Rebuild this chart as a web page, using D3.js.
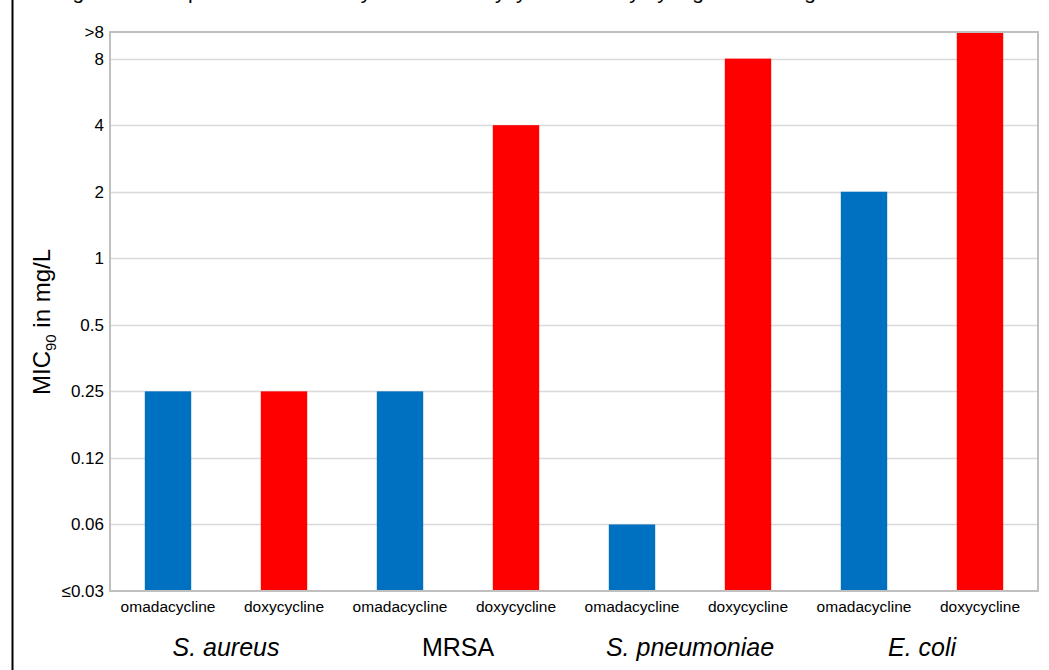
<!DOCTYPE html>
<html>
<head>
<meta charset="utf-8">
<script src="https://cdn.jsdelivr.net/npm/d3@7"></script>
<style>
  body { margin: 0; background: #fff; }
  text { font-family: "Liberation Sans", Arial, sans-serif; fill: #000; }
</style>
</head>
<body>
<div id="chart"></div>
<script>
// data
var organisms  = ['S. aureus', 'MRSA', 'S. pneumoniae', 'E. coli']
  , italicOrg  = [true, false, true, true]
  , drugs      = ['omadacycline', 'doxycycline']
  , omadaMic   = [-2, -2, -4, 1]      // log2 of MIC90: 0.25, 0.25, 0.06, 2
  , doxyMic    = [-2, 2, 3, 3.4]      // 0.25, 4, 8, >8
  , tickLevels = [-5, -4, -3, -2, -1, 0, 1, 2, 3, 3.4]
  , tickLabels = ['≤0.03', '0.06', '0.12', '0.25', '0.5', '1', '2', '4', '8', '>8']
;

var width   = 1049
  , height  = 670
  , margin  = { top: 32, right: 11, bottom: 79, left: 110 }
  , font    = '"Liberation Sans", Arial, sans-serif'
  , colors  = { omadacycline: '#0070c0', doxycycline: '#ff0000' }
;

var rows = [];
organisms.forEach(function (o, i) {
  rows.push({ org: o, drug: drugs[0], v: omadaMic[i], key: i + '-0' });
  rows.push({ org: o, drug: drugs[1], v: doxyMic[i], key: i + '-1' });
});

var svg = d3.select('#chart').append('svg')
    .attr('width', width)
    .attr('height', height);

// caption, cut off at the very top like the source
svg.append('text')
    .attr('x', 55)
    .attr('y', -1)
    .style('font-size', '21px')
    .text('Figure 1: Comparison of omadacycline and doxycycline activity by organism using');

// frame line on the left
svg.append('line')
    .attr('x1', 12.5).attr('x2', 12.5)
    .attr('y1', 0).attr('y2', height)
    .attr('stroke', '#000').attr('stroke-width', 2);

var x0 = margin.left, x1 = width - margin.right
  , y0 = margin.top,  y1 = height - margin.bottom;

var x = d3.scaleBand()
    .domain(rows.map(function (d) { return d.key; }))
    .range([x0, x1])
    .paddingInner(0.6)
    .paddingOuter(0.3);

var xGroup = d3.scaleBand()
    .domain(organisms)
    .range([x0, x1]);

var y = d3.scaleLinear()
    .domain([-5, 3.4])
    .range([y1, y0]);

// gridlines
svg.append('g')
    .selectAll('line')
    .data(tickLevels.slice(1, -1))
    .enter().append('line')
    .attr('x1', x0).attr('x2', x1)
    .attr('y1', function (d) { return Math.round(y(d)) + 0.5; })
    .attr('y2', function (d) { return Math.round(y(d)) + 0.5; })
    .attr('stroke', '#d9d9d9')
    .attr('stroke-width', 1.5);

// bars
svg.append('g')
    .selectAll('rect')
    .data(rows)
    .enter().append('rect')
    .attr('x', function (d) { return x(d.key); })
    .attr('width', x.bandwidth())
    .attr('y', function (d) { return y(d.v); })
    .attr('height', function (d) { return y1 - y(d.v); })
    .attr('fill', function (d) { return colors[d.drug]; });

// plot border
svg.append('rect')
    .attr('x', x0).attr('y', y0)
    .attr('width', x1 - x0).attr('height', y1 - y0)
    .attr('fill', 'none')
    .attr('stroke', '#c0c0c0')
    .attr('stroke-width', 2);

// y axis
var yAxis = d3.axisLeft(y)
    .tickValues(tickLevels)
    .tickFormat(function (d, i) { return tickLabels[i]; })
    .tickSize(0)
    .tickPadding(6);

var gy = svg.append('g')
    .attr('transform', 'translate(' + x0 + ',0)')
    .call(yAxis)
    .attr('font-size', 17)
    .attr('font-family', font);
gy.select('.domain').remove();
gy.selectAll('text').attr('fill', '#000');

// x axis (drug names)
var xAxis = d3.axisBottom(x)
    .tickFormat(function (k) { return drugs[+k.split('-')[1]]; })
    .tickSize(0)
    .tickPadding(10);

var gx = svg.append('g')
    .attr('transform', 'translate(0,' + y1 + ')')
    .call(xAxis)
    .attr('font-size', 15.5)
    .attr('font-family', font);
gx.select('.domain').remove();
gx.selectAll('text').attr('fill', '#000');

// organism labels
svg.append('g')
    .selectAll('text')
    .data(organisms)
    .enter().append('text')
    .attr('x', function (d) { return xGroup(d) + xGroup.bandwidth() / 2; })
    .attr('y', y1 + 65)
    .attr('text-anchor', 'middle')
    .style('font-size', '25px')
    .style('font-style', function (d, i) { return italicOrg[i] ? 'italic' : 'normal'; })
    .text(function (d) { return d; });

// y label
var yl = svg.append('text')
    .attr('transform', 'translate(50,322) rotate(-90)')
    .attr('text-anchor', 'middle')
    .style('font-size', '24px');
yl.append('tspan').text('MIC');
yl.append('tspan').attr('dy', 6).style('font-size', '15px').text('90');
yl.append('tspan').attr('dy', -6).text(' in mg/L');
</script>
</body>
</html>
